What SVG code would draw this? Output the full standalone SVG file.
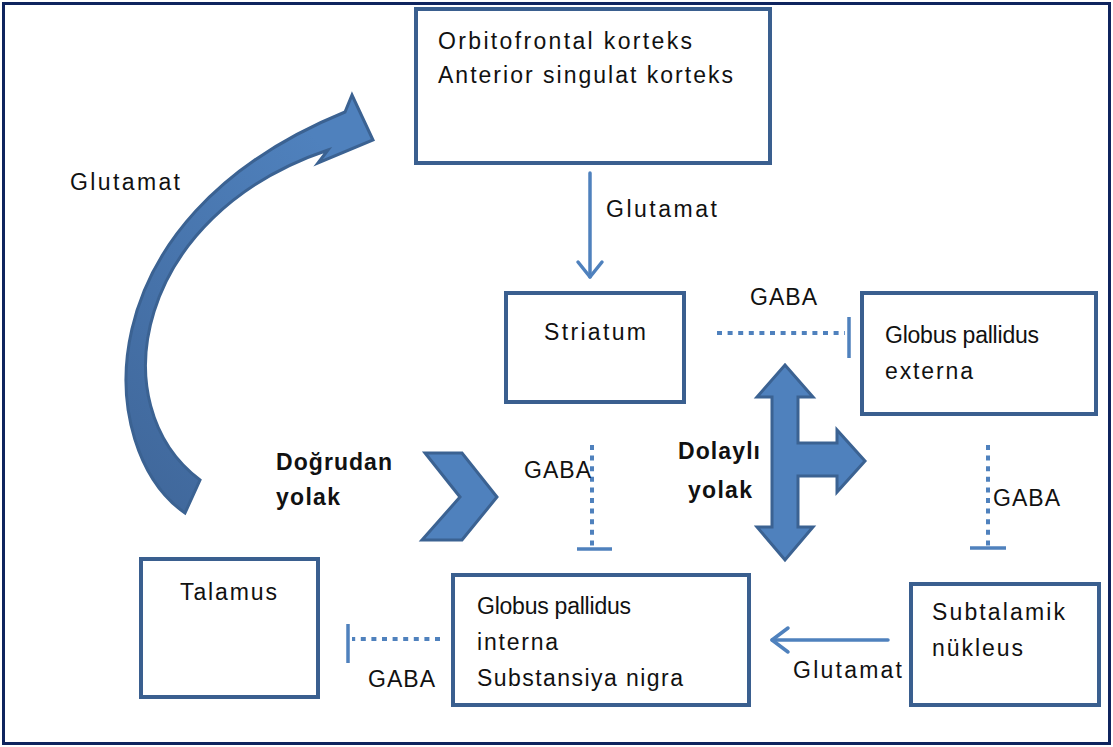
<svg xmlns="http://www.w3.org/2000/svg" width="1113" height="747" viewBox="0 0 1113 747">
<style>
.box{fill:#fff;stroke:#3a5f8f;stroke-width:4}
.t{font-family:"Liberation Sans",Arial,sans-serif;font-size:23px;fill:#111}
.b{font-weight:bold}
.dot{stroke:#4f81bd;stroke-width:4;stroke-dasharray:5 5.6;fill:none}
.bar{stroke:#4f81bd;stroke-width:3.5;fill:none}
.arr{stroke:#4f81bd;stroke-width:3.5;fill:none;stroke-linecap:round;stroke-linejoin:round}
.shape{fill:#4f81bd;stroke:#3b6292;stroke-width:3;stroke-linejoin:miter}
</style>
<defs>
<linearGradient id="cg" x1="0" y1="1" x2="0.6" y2="0">
<stop offset="0" stop-color="#3f6699"/>
<stop offset="1" stop-color="#4f81bd"/>
</linearGradient>
</defs>
<rect x="0" y="0" width="1113" height="747" fill="#fff"/>
<rect x="3.5" y="3.5" width="1106" height="740" fill="none" stroke="#0f245e" stroke-width="3"/>

<g id="connectors">
<path class="shape" style="fill:url(#cg)" d="M185,513 C95,450 80,220 345,112 L352,95 L373,140 L318,163 L328,150 C135,215 100,405 200,480 Z"/>
<polygon class="shape" points="425,453 462,453 497,497 462,540 422,540 460,497"/>
<polygon class="shape" points="785,365 813,397 798,397 798,443 837,443 837,430 865,461 837,492 837,476 798,476 798,527 813,527 785,560 757,527 772,527 772,397 757,397"/>
<line class="arr" x1="590" y1="173" x2="590" y2="277"/>
<polyline class="arr" points="578,262 590,277 602,262"/>
<line class="arr" x1="888" y1="640" x2="772" y2="640"/>
<polyline class="arr" points="788,628 772,640 788,652"/>
<line class="dot" x1="717" y1="333" x2="845" y2="333"/>
<line class="bar" x1="849" y1="317" x2="849" y2="358"/>
<line class="dot" x1="592" y1="445" x2="592" y2="547"/>
<line class="bar" x1="577" y1="549" x2="612" y2="549"/>
<line class="dot" x1="988" y1="445" x2="988" y2="546"/>
<line class="bar" x1="970" y1="548" x2="1006" y2="548"/>
<line class="dot" x1="440" y1="639" x2="352" y2="639"/>
<line class="bar" x1="348" y1="624" x2="348" y2="663"/>
<text class="t" x="70" y="190" textLength="110" lengthAdjust="spacing">Glutamat</text>
<text class="t" x="606" y="217" textLength="111" lengthAdjust="spacing">Glutamat</text>
<text class="t" x="750" y="305" textLength="67" lengthAdjust="spacing">GABA</text>
<text class="t" x="524" y="478" textLength="67" lengthAdjust="spacing">GABA</text>
<text class="t" x="993" y="506" textLength="67" lengthAdjust="spacing">GABA</text>
<text class="t" x="368" y="687" textLength="67" lengthAdjust="spacing">GABA</text>
<text class="t" x="793" y="678" textLength="109" lengthAdjust="spacing">Glutamat</text>
<text class="t b" x="276" y="470" textLength="116" lengthAdjust="spacing">Doğrudan</text>
<text class="t b" x="276" y="505" textLength="64" lengthAdjust="spacing">yolak</text>
<text class="t b" x="678" y="459" textLength="82" lengthAdjust="spacing">Dolaylı</text>
<text class="t b" x="688" y="498" textLength="64" lengthAdjust="spacing">yolak</text>
</g>

<g id="orbitofrontal">
<rect class="box" x="416" y="9" width="354" height="154"/>
<text class="t" x="438" y="49" textLength="254" lengthAdjust="spacing">Orbitofrontal korteks</text>
<text class="t" x="438" y="83" textLength="295" lengthAdjust="spacing">Anterior singulat korteks</text>
</g>
<g id="striatum">
<rect class="box" x="506" y="293" width="178" height="109"/>
<text class="t" x="544" y="340" textLength="102" lengthAdjust="spacing">Striatum</text>
</g>
<g id="gpe">
<rect class="box" x="862" y="293" width="234" height="121"/>
<text class="t" x="885" y="343" textLength="154" lengthAdjust="spacing">Globus pallidus</text>
<text class="t" x="885" y="379" textLength="88" lengthAdjust="spacing">externa</text>
</g>
<g id="talamus">
<rect class="box" x="141" y="559" width="177" height="138"/>
<text class="t" x="180" y="600" textLength="97" lengthAdjust="spacing">Talamus</text>
</g>
<g id="gpi">
<rect class="box" x="453" y="575" width="296" height="130"/>
<text class="t" x="477" y="614" textLength="154" lengthAdjust="spacing">Globus pallidus</text>
<text class="t" x="477" y="650" textLength="81" lengthAdjust="spacing">interna</text>
<text class="t" x="477" y="686" textLength="206" lengthAdjust="spacing">Substansiya nigra</text>
</g>
<g id="stn">
<rect class="box" x="911" y="584" width="188" height="121"/>
<text class="t" x="932" y="620" textLength="133" lengthAdjust="spacing">Subtalamik</text>
<text class="t" x="932" y="656" textLength="91" lengthAdjust="spacing">nükleus</text>
</g>
</svg>
